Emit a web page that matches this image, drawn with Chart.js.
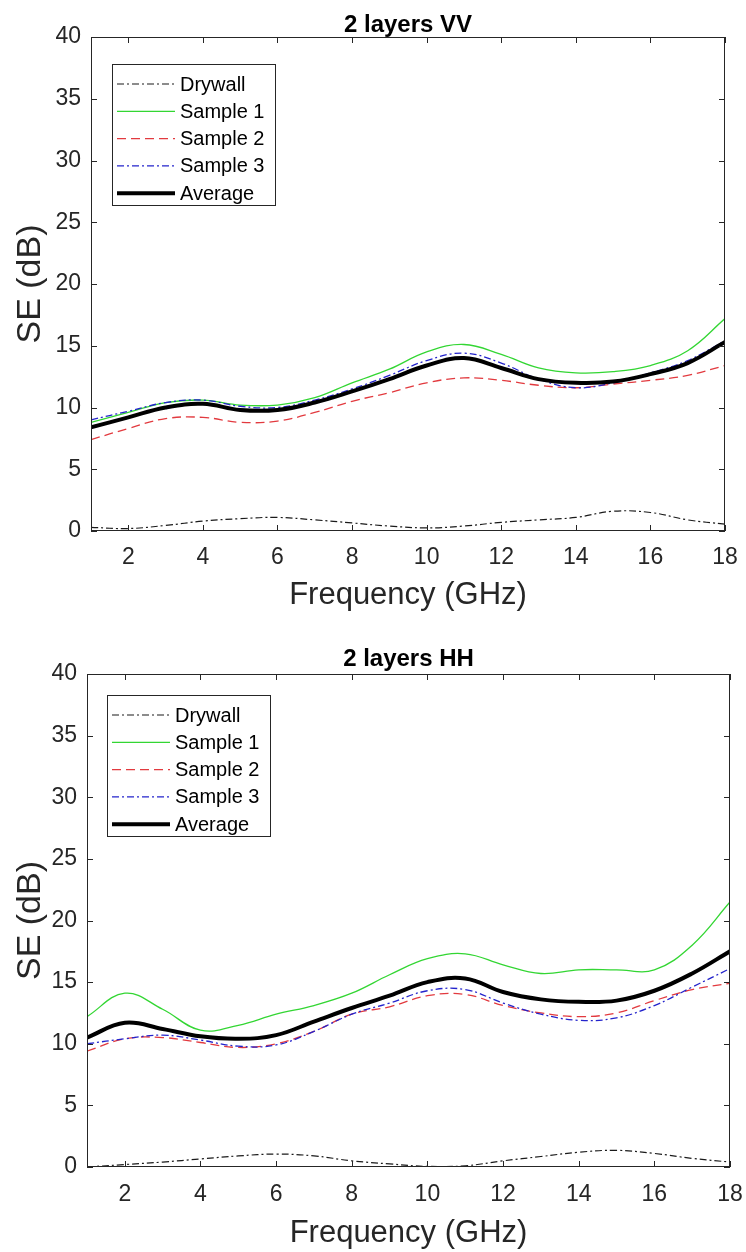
<!DOCTYPE html>
<html>
<head>
<meta charset="utf-8">
<script src="https://cdn.jsdelivr.net/npm/chart.js"></script>
<style>
  body { margin: 0; background: #fff; }
  canvas { display: block; }
</style>
</head>
<body>
<canvas id="vvChart" width="746" height="626"></canvas>
<canvas id="hhChart" width="746" height="626"></canvas>
<script>
// frequency samples (GHz) and tick values
var freq = [1, 2, 3, 4, 5, 6, 7, 8, 9, 10, 11, 12, 13, 14, 15, 16, 17, 18];
var xTickVals = [2, 4, 6, 8, 10, 12, 14, 16, 18];
var yTickVals = [0, 5, 10, 15, 20, 25, 30, 35, 40];
var seriesNames = ['Drywall', 'Sample 1', 'Sample 2', 'Sample 3', 'Average'];

// 2 layers VV
var vvDrywall = [0.3, 0.2, 0.45, 0.8, 1.0, 1.1, 0.9, 0.65, 0.4, 0.25, 0.4, 0.7, 0.9, 1.1, 1.6, 1.5, 0.9, 0.55];
var vvSample1 = [8.8, 9.6, 10.4, 10.6, 10.2, 10.2, 10.8, 12.0, 13.1, 14.5, 15.1, 14.3, 13.2, 12.8, 12.9, 13.4, 14.6, 17.2];
var vvSample2 = [7.4, 8.3, 9.1, 9.2, 8.8, 8.9, 9.6, 10.5, 11.2, 12.0, 12.4, 12.2, 11.8, 11.6, 11.9, 12.2, 12.6, 13.4];
var vvSample3 = [9.0, 9.7, 10.4, 10.6, 10.1, 10.0, 10.6, 11.5, 12.6, 13.8, 14.4, 13.6, 12.3, 11.6, 12.0, 12.8, 13.8, 15.4];
var vvAverage = [8.4, 9.2, 10.0, 10.3, 9.8, 9.8, 10.4, 11.3, 12.3, 13.4, 14.0, 13.2, 12.3, 12.0, 12.1, 12.7, 13.6, 15.3];

// 2 layers HH
var hhDrywall = [0.0, 0.2, 0.4, 0.65, 0.9, 1.05, 0.9, 0.5, 0.25, 0.05, 0.1, 0.5, 0.85, 1.2, 1.35, 1.1, 0.7, 0.4];
var hhSample1 = [12.2, 14.1, 12.8, 11.1, 11.5, 12.4, 13.1, 14.1, 15.6, 16.9, 17.3, 16.4, 15.7, 16.0, 16.0, 16.0, 18.0, 21.5];
var hhSample2 = [9.4, 10.4, 10.5, 10.1, 9.7, 10.0, 11.0, 12.4, 13.0, 13.9, 14.0, 13.1, 12.5, 12.2, 12.5, 13.5, 14.4, 14.9];
var hhSample3 = [10.0, 10.4, 10.7, 10.3, 9.8, 9.9, 11.0, 12.4, 13.3, 14.3, 14.4, 13.3, 12.4, 11.9, 12.1, 13.1, 14.6, 16.1];
var hhAverage = [10.5, 11.7, 11.2, 10.6, 10.4, 10.7, 11.8, 12.9, 13.9, 15.0, 15.3, 14.2, 13.6, 13.4, 13.5, 14.3, 15.7, 17.5];

var axisColor = '#262626';
var fontFamily = '"Liberation Sans", Arial, Helvetica, sans-serif';

var lineStyles = [
    { color: '#1a1a1a', width: 1.2, dash: [7, 3, 2, 3], order: 4 },
    { color: '#33d633', width: 1.3, dash: [], order: 3 },
    { color: '#e23a3f', width: 1.3, dash: [9, 5], order: 2 },
    { color: '#2424cc', width: 1.3, dash: [7, 3, 2, 3], order: 1 },
    { color: '#000000', width: 4, dash: [], order: 0 }
];

// box frame, inward ticks and the legend, drawn like the MATLAB axes
var matlabAxes = {
    id: 'matlabAxes',
    afterDraw: function(chart, args, opts) {
        var ctx = chart.ctx;
        var a = chart.chartArea;
        var xs = chart.scales.x, ys = chart.scales.y;
        ctx.save();
        ctx.strokeStyle = axisColor;
        ctx.lineWidth = 1;
        ctx.setLineDash([]);
        ctx.strokeRect(a.left + 0.5, a.top + 0.5, a.right - a.left - 1, a.bottom - a.top - 1);
        var tl = 6;
        ctx.beginPath();
        xTickVals.forEach(function(v) {
            var px = Math.round(xs.getPixelForValue(v)) + 0.5;
            ctx.moveTo(px, a.bottom); ctx.lineTo(px, a.bottom - tl);
            ctx.moveTo(px, a.top); ctx.lineTo(px, a.top + tl);
        });
        yTickVals.forEach(function(v) {
            var py = Math.round(ys.getPixelForValue(v)) + 0.5;
            ctx.moveTo(a.left, py); ctx.lineTo(a.left + tl, py);
            ctx.moveTo(a.right, py); ctx.lineTo(a.right - tl, py);
        });
        ctx.stroke();

        // legend
        var lx = a.left + opts.dx, ly = a.top + opts.dy;
        var w = 163, h = 141, row = 27.3;
        ctx.fillStyle = '#fff';
        ctx.fillRect(lx, ly, w, h);
        ctx.strokeRect(lx + 0.5, ly + 0.5, w, h);
        ctx.font = '20px ' + fontFamily;
        ctx.textBaseline = 'middle';
        ctx.textAlign = 'left';
        chart.data.datasets.forEach(function(ds, i) {
            var cy = ly + 20 + i * row;
            ctx.beginPath();
            ctx.strokeStyle = ds.borderColor;
            ctx.lineWidth = ds.borderWidth;
            ctx.setLineDash(ds.borderDash || []);
            ctx.moveTo(lx + 5, cy);
            ctx.lineTo(lx + 63, cy);
            ctx.stroke();
            ctx.fillStyle = '#000';
            ctx.fillText(ds.label, lx + 68, cy + 1);
        });
        ctx.restore();
    }
};

function makeChart(id, titleText, series, lay) {
    var datasets = series.map(function(vals, i) {
        var st = lineStyles[i];
        return {
            label: seriesNames[i],
            data: freq.map(function(f, k) { return { x: f, y: vals[k] }; }),
            borderColor: st.color,
            backgroundColor: st.color,
            borderWidth: st.width,
            borderDash: st.dash,
            order: st.order,
            pointRadius: 0,
            tension: 0.4,
            fill: false
        };
    });
    return new Chart(document.getElementById(id), {
        type: 'line',
        data: { datasets: datasets },
        options: {
            responsive: false,
            animation: false,
            devicePixelRatio: 1,
            layout: { padding: { top: 0, left: 0, bottom: 0, right: lay.right } },
            plugins: {
                legend: { display: false },
                tooltip: { enabled: false },
                title: {
                    display: true,
                    text: titleText,
                    fullSize: false,
                    color: '#000',
                    font: { family: fontFamily, size: 24, weight: 'bold', lineHeight: 1 },
                    padding: { top: lay.titleTop, bottom: lay.titleBottom }
                },
                matlabAxes: { dx: lay.legendDx, dy: lay.legendDy }
            },
            scales: {
                x: {
                    type: 'linear',
                    min: 1,
                    max: 18,
                    afterBuildTicks: function(s) { s.ticks = xTickVals.map(function(v) { return { value: v }; }); },
                    afterFit: function(s) { s.height = lay.xHeight; s.paddingLeft = 0; s.paddingRight = 0; },
                    grid: { display: false, drawTicks: false },
                    border: { display: false },
                    ticks: { color: axisColor, padding: lay.xPad, maxRotation: 0, autoSkip: false,
                             font: { family: fontFamily, size: 23 } },
                    title: { display: true, text: 'Frequency (GHz)', color: axisColor,
                             font: { family: fontFamily, size: 31 },
                             padding: { top: 0, bottom: lay.xTitlePad } }
                },
                y: {
                    min: 0,
                    max: 40,
                    afterBuildTicks: function(s) { s.ticks = yTickVals.map(function(v) { return { value: v }; }); },
                    afterFit: function(s) { s.width = lay.yWidth; s.paddingTop = 0; s.paddingBottom = 0; },
                    grid: { display: false, drawTicks: false },
                    border: { display: false },
                    ticks: { color: axisColor, padding: 10, font: { family: fontFamily, size: 23 } },
                    title: { display: true, text: 'SE (dB)', color: axisColor,
                             font: { family: fontFamily, size: 34 },
                             padding: { top: 10, bottom: 0 } }
                }
            }
        },
        plugins: [matlabAxes]
    });
}

makeChart('vvChart', '2 layers VV',
    [vvDrywall, vvSample1, vvSample2, vvSample3, vvAverage],
    { right: 21, yWidth: 91, xHeight: 95, titleTop: 13, titleBottom: 0, xPad: 13, xTitlePad: 12,
      legendDx: 21, legendDy: 27 });

makeChart('hhChart', '2 layers HH',
    [hhDrywall, hhSample1, hhSample2, hhSample3, hhAverage],
    { right: 16, yWidth: 87, xHeight: 85, titleTop: 21, titleBottom: 3, xPad: 14, xTitlePad: 0,
      legendDx: 20, legendDy: 21 });
</script>
</body>
</html>
